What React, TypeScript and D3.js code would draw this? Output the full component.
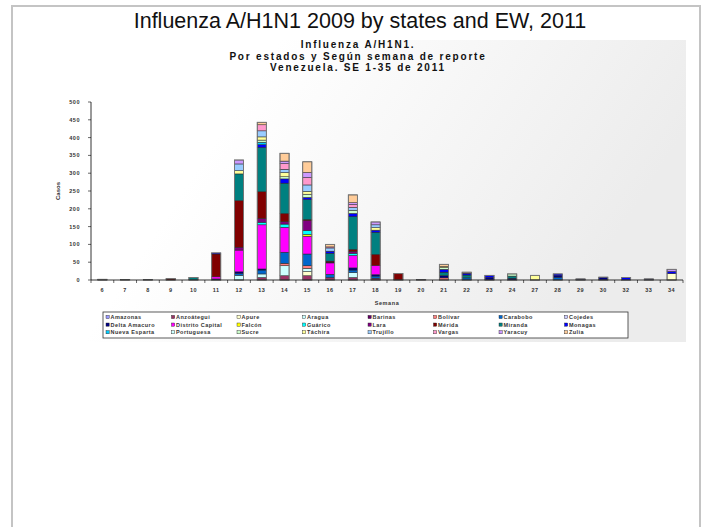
import React from "react";
import * as d3 from "d3";

const weeks = ["6","7","8","9","10","11","12","13","14","15","16","17","18","19","20","21","22","23","24","27","28","29","30","32","33","34"];
const states = ["Amazonas","Anzoátegui","Apure","Aragua","Barinas","Bolívar","Carabobo","Cojedes","Delta Amacuro","Distrito Capital","Falcón","Guárico","Lara","Mérida","Miranda","Monagas","Nueva Esparta","Portuguesa","Sucre","Táchira","Trujillo","Vargas","Yaracuy","Zulia"];
const colors = ["#9999FF","#993366","#FFFFCC","#CCFFFF","#660066","#FF8080","#0066CC","#CCCCFF","#000080","#FF00FF","#FFFF00","#00FFFF","#800080","#800000","#008080","#0000FF","#00CCFF","#CCFFFF","#CCFFCC","#FFFF99","#99CCFF","#FF99CC","#CC99FF","#FFCC99"];
const yTicks = [0,50,100,150,200,250,300,350,400,450,500];

// values per state, in week order:      6 7 8 9 10 11  12  13  14  15  16 17 18 19 20 21 22 23 24 27 28 29 30 32 33 34
const amazonas        = [0,0,0,0,0, 0,  0,  0,  0,  0,  0, 0, 0, 0, 0, 0, 0, 0, 0, 0, 0, 0, 0, 0, 0, 0];
const anzoategui      = [0,0,0,0,0, 0,  0,  7, 12, 12,  7, 7, 5, 0, 0, 0, 0, 0, 0, 0, 0, 0, 0, 0, 0, 0];
const apure           = [0,0,0,0,0, 0,  0,  0,  0, 12,  0, 0, 0, 0, 0, 0, 0, 0, 0, 0, 0, 0, 0, 0, 0,18];
const aragua          = [0,0,0,0,0, 0, 13, 10, 28,  9,  0,14, 0, 0, 0, 0, 0, 0, 0, 0, 0, 0, 0, 0, 0, 0];
const barinas         = [0,0,0,0,0, 0,  0,  0,  0,  0,  0, 0, 0, 0, 0, 0, 0, 0, 0, 0, 0, 0, 0, 0, 0, 0];
const bolivar         = [0,0,0,0,0, 0,  0,  0,  7,  7,  0, 0, 0, 0, 0, 6, 0, 0, 0, 0, 0, 0, 0, 0, 0, 0];
const carabobo        = [0,0,1,0,0, 0,  6, 11, 31, 33,  9, 7, 6, 0, 0, 0, 6, 0, 0, 0, 8, 0, 0, 0, 0, 0];
const cojedes         = [0,0,0,0,0, 0,  0,  0,  0,  0,  0, 0, 0, 0, 0, 0, 0, 0, 0, 0, 0, 0, 0, 0, 0, 0];
const deltaAmacuro    = [0,0,0,0,0, 3,  4,  3,  0,  0,  0, 6, 4, 0, 0, 6, 0, 7, 5, 0, 4, 3, 8, 0, 3, 0];
const distritoCapital = [0,0,0,0,0, 6, 61,124, 70, 50, 32,35,26, 0, 0, 0, 0, 0, 0, 0, 0, 0, 0, 0, 0, 0];
const falcon          = [0,0,0,0,0, 0,  0,  0,  0,  5,  0, 0, 0, 0, 0, 0, 0, 0, 0, 0, 0, 0, 0, 0, 0, 0];
const guarico         = [0,0,0,0,0, 0,  0,  7,  9, 11,  0, 6, 0, 0, 0, 0, 0, 0, 0, 0, 0, 0, 0, 0, 0, 0];
const lara            = [0,0,0,0,0, 0,  8, 11,  7, 28,  2, 5, 0, 0, 0, 0, 0, 0, 0, 0, 0, 0, 0, 0, 0, 0];
const merida          = [0,0,0,4,0,64,131, 75, 23,  3,  3, 6,31,18, 0, 0, 0, 0, 0, 0, 0, 0, 0, 0, 0, 0];
const miranda         = [2,1,0,0,7, 0, 75,124, 85, 56, 22,92,62, 0, 0,10, 8, 0, 6, 0, 0, 0, 0, 0, 0, 0];
const monagas         = [0,0,0,0,0, 3,  0,  8, 12,  6,  6, 9, 6, 0, 1, 8, 5, 6, 0, 0, 5, 0, 0, 7, 0, 6];
const nuevaEsparta    = [0,0,0,0,0, 0,  0,  7,  0,  0,  0, 0, 0, 0, 0, 0, 0, 0, 0, 0, 0, 0, 0, 0, 0, 0];
const portuguesa      = [0,0,0,0,0, 0,  0,  0,  0,  0,  0, 0, 0, 0, 0, 0, 0, 0, 0, 0, 0, 0, 0, 0, 0, 0];
const sucre           = [0,0,0,0,0, 0,  0,  6,  6,  9,  0, 9, 0, 0, 0, 5, 0, 0, 6, 0, 0, 0, 0, 0, 0, 0];
const tachira         = [0,0,0,0,0, 0,  9,  9, 12,  8,  0, 0, 7, 0, 0, 3, 0, 0, 0,13, 0, 0, 0, 0, 0, 0];
const trujillo        = [0,0,0,0,0, 0, 19, 17,  9, 18,  9, 8, 8, 0, 0, 0, 0, 0, 0, 0, 0, 0, 0, 0, 0, 0];
const vargas          = [0,0,0,0,0, 0,  0, 17, 16, 21,  3, 8, 0, 0, 0, 0, 0, 0, 0, 0, 0, 0, 0, 0, 0, 0];
const yaracuy         = [0,0,0,0,0, 0, 11,  0,  7, 14,  0, 5, 8, 0, 0, 0, 0, 0, 0, 0, 0, 0, 0, 0, 0, 6];
const zulia           = [0,0,0,0,0, 0,  0,  7, 22, 30,  7,22, 0, 0, 0, 6, 3, 0, 0, 0, 0, 0, 0, 0, 0, 0];

const seriesValues = [amazonas, anzoategui, apure, aragua, barinas, bolivar, carabobo, cojedes, deltaAmacuro, distritoCapital, falcon, guarico, lara, merida, miranda, monagas, nuevaEsparta, portuguesa, sucre, tachira, trujillo, vargas, yaracuy, zulia];

const W = 707, H = 527;
const M = { left: 91, right: 683, top: 102, bottom: 280 };

export default function App() {
  const rows = weeks.map((w, i) => {
    const r: any = { week: w };
    states.forEach((s, j) => { r[s] = seriesValues[j][i]; });
    return r;
  });
  const stacked = d3.stack().keys(states)(rows);
  const x = d3.scaleBand().domain(weeks).range([M.left, M.right]).paddingInner(0).paddingOuter(0);
  const y = d3.scaleLinear().domain([0, 500]).range([M.bottom, M.top]);
  const bw = x.step() * 0.4;
  const totals = weeks.map((_, i) => d3.sum(seriesValues, (s) => s[i]));
  const font = "'Liberation Sans', Arial, sans-serif";
  const lx0 = 103, ly0 = 312, colW = 65.5, rowH = 7.6;

  return (
    <svg width={W} height={H} style={{ position: "absolute", left: 0, top: 0, background: "#fff" }} fontFamily={font}>
      <defs>
        <linearGradient id="bg" x1="0" y1="0" x2="1" y2="0.3">
          <stop offset="0.35" stopColor="#ffffff" />
          <stop offset="1" stopColor="#ececec" />
        </linearGradient>
      </defs>
      <rect x={12} y={6} width={688} height={540} fill="#fff" stroke="#c4c4c4" strokeWidth={2} />
      <rect x={30} y={40} width={656} height={302} fill="url(#bg)" />
      <text x={360} y={28} textAnchor="middle" fontSize={21.5} fill="#111">Influenza A/H1N1 2009 by states and EW, 2011</text>
      <g fontSize={10} fontWeight="bold" textAnchor="middle" fill="#111" letterSpacing={1.8}>
        <text x={358} y={48}>Influenza A/H1N1.</text>
        <text x={358} y={59.5}>Por estados y Según semana de reporte</text>
        <text x={358} y={71}>Venezuela. SE 1-35 de 2011</text>
      </g>

      {/* bars */}
      {stacked.map((layer, j) => (
        <g key={states[j]} fill={colors[j]}>
          {layer.map((d, i) => (d[1] - d[0] > 0 ? (
            <rect key={i} x={(x(weeks[i]) as number) + (x.step() - bw) / 2} y={y(d[1])} width={bw} height={y(d[0]) - y(d[1])} stroke="#222" strokeWidth={0.5} />
          ) : null))}
        </g>
      ))}
      {weeks.map((w, i) => totals[i] > 0 ? (
        <rect key={w} x={(x(w) as number) + (x.step() - bw) / 2} y={y(totals[i])} width={bw} height={y(0) - y(totals[i])} fill="none" stroke="#777" strokeWidth={0.9} />
      ) : null)}

      {/* axes */}
      <line x1={M.left} x2={M.left} y1={M.top} y2={M.bottom} stroke="#000" strokeWidth={0.8} />
      <line x1={M.left} x2={M.right} y1={M.bottom} y2={M.bottom} stroke="#000" strokeWidth={0.8} />
      {yTicks.map((t) => (
        <g key={t}>
          <line x1={M.left - 3} x2={M.left} y1={y(t)} y2={y(t)} stroke="#000" strokeWidth={0.6} />
          <text x={80} y={y(t) + 2} textAnchor="end" fontSize={5.5} fontWeight="bold" fill="#333" letterSpacing={0.5}>{t}</text>
        </g>
      ))}
      {weeks.map((w) => (
        <line key={"t" + w} x1={x(w) as number} x2={x(w) as number} y1={M.bottom} y2={M.bottom + 3} stroke="#000" strokeWidth={0.6} />
      ))}
      <line x1={M.right} x2={M.right} y1={M.bottom} y2={M.bottom + 3} stroke="#000" strokeWidth={0.6} />
      {weeks.map((w) => (
        <text key={"l" + w} x={(x(w) as number) + x.step() / 2} y={292} textAnchor="middle" fontSize={5.5} fontWeight="bold" fill="#333" letterSpacing={0.5}>{w}</text>
      ))}
      <text x={(M.left + M.right) / 2} y={305} textAnchor="middle" fontSize={5.5} fontWeight="bold" fill="#333" letterSpacing={0.6}>Semana</text>
      <text transform={`translate(60,191) rotate(-90)`} textAnchor="middle" fontSize={6} fontWeight="bold" fill="#333">Casos</text>

      {/* legend */}
      <rect x={lx0} y={ly0} width={525} height={26} fill="#fff" stroke="#333" strokeWidth={0.8} />
      {states.map((s, j) => {
        const col = j % 8, row = Math.floor(j / 8);
        const cx = lx0 + 3 + col * colW, cy = ly0 + 5 + row * rowH;
        return (
          <g key={s}>
            <rect x={cx} y={cy - 1.6} width={3.2} height={3.2} fill={colors[j]} stroke="#222" strokeWidth={0.4} />
            <text x={cx + 4.5} y={cy + 1.9} fontSize={5.5} fontWeight="bold" fill="#333" letterSpacing={0.45}>{s}</text>
          </g>
        );
      })}
    </svg>
  );
}
